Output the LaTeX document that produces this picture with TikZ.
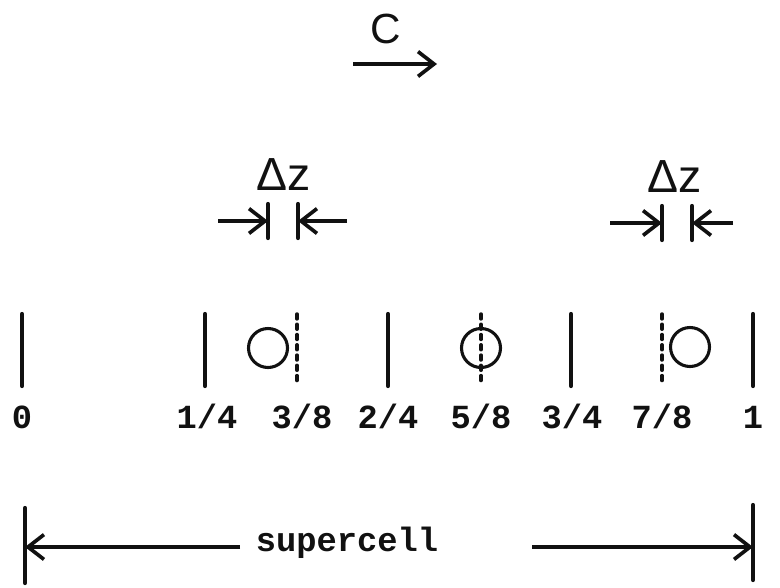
\documentclass[tikz,border=0pt]{standalone}
\usepackage{fontspec}
\setmainfont{Liberation Sans}
\setmonofont{Liberation Mono}
\usepackage{xcolor}
\usepackage{tikz}
\usetikzlibrary{arrows.meta,positioning,calc}
\definecolor{ink}{HTML}{111111}
\tikzset{
  >={Straight Barb[length=4mm,width=6.2mm]},
  wall/.style={draw=ink, line width=3pt, line cap=round},
  shifted/.style={draw=ink, line width=2.5pt, line cap=round, dash pattern=on 3.5pt off 3.8pt},
  atom/.style={draw=ink, line width=2.2pt},
  flow/.style={->, draw=ink, line width=2.6pt},
  frac/.style={anchor=base, font=\ttfamily\bfseries\fontsize{24}{28}\selectfont, text=ink},
  sym/.style={anchor=base, font=\fontsize{33}{38}\selectfont, text=ink}
}
\begin{document}
\begin{tikzpicture}[x=0.025cm,y=-0.025cm]
  \useasboundingbox (0,0) rectangle (780,587);

  % propagation direction
  \node[sym,font=\fontsize{30}{34}\selectfont] (cdir) at (386,43) {C};
  \coordinate (cfrom) at (353,64);
  \coordinate (cto) at (437,64);
  \draw[flow] (cfrom) -- (cto);

  % cell walls and their fractions
  \foreach \name/\x in {w0/22, w1/205, w2/388, w3/571, w4/753}{
    \coordinate (\name top) at (\x,314);
    \coordinate (\name bot) at (\x,386);
    \draw[wall] (\name top) -- (\name bot);
  }
  \foreach \name/\x/\t in {l0/22/0, l1/207/1\slash 4, l2/388/2\slash 4, l3/572/3\slash 4,
      l4/302/3\slash 8, l5/481/5\slash 8, l6/662/7\slash 8, l7/753/1}{
    \node[frac] (\name) at (\x,428) {\t};
  }

  % shifted planes and the atoms
  \foreach \name/\x in {p3/297, p5/481, p7/662}{
    \coordinate (\name top) at (\x,314);
    \coordinate (\name bot) at (\x,385);
    \draw[shifted] (\name top) -- (\name bot);
  }
  \draw[atom] (268,348) circle (19.5);
  \draw[atom] (481,348) circle (19.5);
  \draw[atom] (690,347) circle (19.5);

  % displacement, left
  \node[sym] (dzl) at (284,190) {Δz};
  \coordinate (dla) at (268,204); \coordinate (dlb) at (268,238);
  \coordinate (dlc) at (298,204); \coordinate (dld) at (298,238);
  \draw[wall] (dla) -- (dlb);
  \draw[wall] (dlc) -- (dld);
  \draw[flow] (218,221) -- (268,221);
  \draw[flow] (347,221) -- (298,221);

  % displacement, right
  \node[sym] (dzr) at (675,192) {Δz};
  \coordinate (dra) at (662,206); \coordinate (drb) at (662,240);
  \coordinate (drc) at (692,206); \coordinate (drd) at (692,240);
  \draw[wall] (dra) -- (drb);
  \draw[wall] (drc) -- (drd);
  \draw[flow] (610,223) -- (662,223);
  \draw[flow] (733,223) -- (692,223);

  % supercell span
  \node[frac] (sc) at (347,551) {supercell};
  \coordinate (sla) at (25,508); \coordinate (slb) at (25,583);
  \coordinate (sra) at (753,505); \coordinate (srb) at (753,580);
  \draw[wall] (sla) -- (slb);
  \draw[wall] (sra) -- (srb);
  \draw[flow] (240,547) -- (25,547);
  \draw[flow] (532,547) -- (753,547);
\end{tikzpicture}
\end{document}
